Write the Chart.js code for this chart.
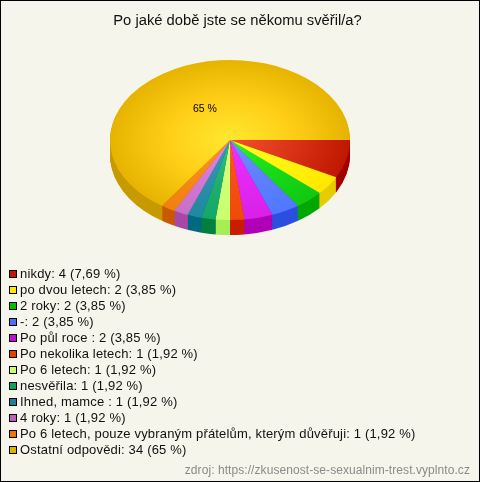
<!DOCTYPE html>
<html>
<head>
<meta charset="utf-8">
<script src="https://cdn.jsdelivr.net/npm/chart.js@4"></script>
<style>
  html, body { margin: 0; padding: 0; overflow: hidden; }
  #box { position: relative; width: 480px; height: 482px; box-sizing: border-box; border: 1px solid #000; background: #f5f5ec; font-family: "Liberation Sans", Arial, sans-serif; color: #111; }
  #chart { position: absolute; left: -1px; top: -1px; }
  #legend { position: absolute; left: 8px; top: 265px; margin: 0; padding: 0; list-style: none; font-size: 13px; letter-spacing: 0.17px; }
  #legend li { height: 16px; line-height: 16px; white-space: pre; display: flex; align-items: center; }
  #legend i { display: block; width: 6px; height: 6px; border: 1px solid #000; margin-right: 3px; }
  #source { position: absolute; right: 9px; top: 461px; font-size: 12px; letter-spacing: 0.07px; line-height: 16px; color: #8a8a8a; }
</style>
</head>
<body>
<div id="box">
  <canvas id="chart" width="480" height="482"></canvas>
  <ul id="legend"></ul>
  <div id="source">zdroj: https://zkusenost-se-sexualnim-trest.vyplnto.cz</div>
</div>
<script>
const titleText = "Po jaké době jste se někomu svěřil/a?";
const labels = ["nikdy", "po dvou letech", "2 roky", "-", "Po půl roce ", "Po nekolika letech", "Po 6 letech", "nesvěřila", "Ihned, mamce ", "4 roky", "Po 6 letech, pouze vybraným přátelům, kterým důvěřuji", "Ostatní odpovědi"];
const values = [4, 2, 2, 2, 2, 1, 1, 1, 1, 1, 1, 34];
const percents = ["7,69", "3,85", "3,85", "3,85", "3,85", "1,92", "1,92", "1,92", "1,92", "1,92", "1,92", "65"];

const innerColors = ["#f4502f", "#ffff20", "#30f030", "#7090ff", "#f030ff", "#ff5a20", "#d8ff80", "#30c080", "#3a9ab8", "#e088e8", "#ff9020", "#ffe830"];
const midColors = ["#dc3418", "#fff410", "#18dc18", "#5f80ff", "#e428f4", "#f45014", "#d0ff78", "#20b070", "#2c90aa", "#d478d8", "#f88a14", "#ffcf18"];
const outerColors = ["#c01800", "#ffe800", "#10c810", "#4f78ff", "#d820e8", "#ef4a08", "#c8ff70", "#10a868", "#2088a0", "#c870c8", "#f08010", "#e6b400"];
const sideColors = ["#a00000", "#e6cc00", "#00a800", "#2b50e0", "#b000b8", "#c81e00", "#a6ee55", "#008040", "#006a80", "#a848a8", "#c85a00", "#c89a00"];
const swatchColors = ["#c01800", "#ffe800", "#00c000", "#4f70f0", "#c010d0", "#e04000", "#c8ff70", "#10a060", "#20809a", "#c060c0", "#e87800", "#e6b000"];

// where the flattened pie ends up on the page
const pie = { cx: 230, cy: 140, rx: 120, ry: 80, depth: 15 };

function flatten(ctx, arc, dy) {
  const r = arc.outerRadius;
  ctx.translate(pie.cx, pie.cy + dy);
  ctx.scale(pie.rx / r, pie.ry / r);
  ctx.translate(-arc.x, -arc.y);
}

const pie3d = {
  id: "pie3d",
  beforeDatasetsDraw(chart) {
    const ctx = chart.ctx;
    const arcs = chart.getDatasetMeta(0).data;
    // the side wall, stacked up from the bottom
    for (let dy = pie.depth; dy > 0; dy--) {
      arcs.forEach((arc, i) => {
        ctx.save();
        flatten(ctx, arc, dy);
        ctx.fillStyle = sideColors[i];
        ctx.beginPath();
        ctx.moveTo(arc.x, arc.y);
        ctx.arc(arc.x, arc.y, arc.outerRadius, arc.startAngle, arc.endAngle);
        ctx.closePath();
        ctx.fill();
        ctx.restore();
      });
    }
    ctx.save();
    flatten(ctx, arcs[0], 0);
  },
  afterDatasetsDraw(chart) {
    const ctx = chart.ctx;
    ctx.restore();
    // only the big slice has its label on the pie
    const last = values.length - 1;
    const arc = chart.getDatasetMeta(0).data[last];
    const mid = (arc.startAngle + arc.endAngle) / 2;
    ctx.save();
    ctx.fillStyle = "#000";
    ctx.font = "10.5px 'Liberation Sans', Arial, sans-serif";
    ctx.textAlign = "center";
    ctx.textBaseline = "middle";
    ctx.fillText(percents[last] + " %", pie.cx + Math.cos(mid) * pie.rx * 0.45, 1 + pie.cy + Math.sin(mid) * pie.ry * 0.45);
    ctx.restore();
  }
};

new Chart(document.getElementById("chart"), {
  type: "pie",
  plugins: [pie3d],
  data: {
    labels: labels,
    datasets: [{
      data: values,
      borderWidth: 0,
      backgroundColor(c) {
        const area = c.chart.chartArea;
        if (!area) return outerColors[c.dataIndex];
        const x = (area.left + area.right) / 2;
        const y = (area.top + area.bottom) / 2;
        const r = Math.min(area.right - area.left, area.bottom - area.top) / 2;
        const g = c.chart.ctx.createRadialGradient(x, y, 0, x, y, r);
        g.addColorStop(0, innerColors[c.dataIndex]);
        g.addColorStop(0.5, midColors[c.dataIndex]);
        g.addColorStop(1, outerColors[c.dataIndex]);
        return g;
      }
    }]
  },
  options: {
    responsive: false,
    animation: false,
    rotation: 90,
    layout: { padding: { left: 0, right: 5, top: 0, bottom: 242 } },
    plugins: {
      legend: { display: false },
      tooltip: { enabled: false },
      title: {
        display: true,
        text: titleText,
        color: "#111",
        font: { family: "'Liberation Sans', Arial, sans-serif", size: 14.75, weight: "normal" },
        padding: { top: 12, bottom: 11 }
      }
    }
  }
});

const legend = document.getElementById("legend");
labels.forEach((label, i) => {
  const li = document.createElement("li");
  const box = document.createElement("i");
  box.style.background = swatchColors[i];
  li.appendChild(box);
  li.appendChild(document.createTextNode(label + ": " + values[i] + " (" + percents[i] + " %)"));
  legend.appendChild(li);
});
</script>
</body>
</html>
